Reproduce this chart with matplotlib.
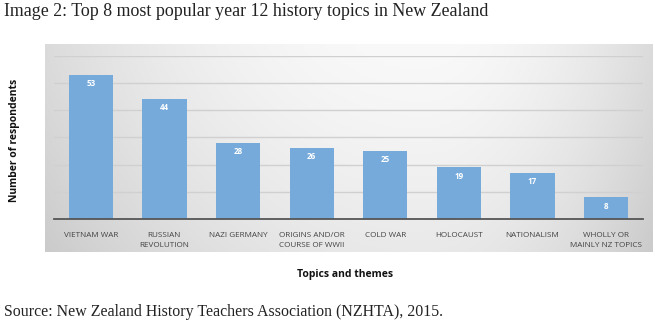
import numpy as np
import matplotlib
matplotlib.use("Agg")
import matplotlib.pyplot as plt

categories = ["VIETNAM WAR", "RUSSIAN\nREVOLUTION", "NAZI GERMANY", "ORIGINS AND/OR\nCOURSE OF WWII",
              "COLD WAR", "HOLOCAUST", "NATIONALISM", "WHOLLY OR\nMAINLY NZ TOPICS"]
values = [53, 44, 28, 26, 25, 19, 17, 8]
title = "Image 2: Top 8 most popular year 12 history topics in New Zealand"
source = "Source: New Zealand History Teachers Association (NZHTA), 2015."

W, H = 655, 332
fig = plt.figure(figsize=(W / 100, H / 100), dpi=100)
fig.patch.set_facecolor("white")

# background gradient panel
px0, px1, py0, py1 = 45, 653, 44, 252
bg = fig.add_axes([px0 / W, 1 - py1 / H, (px1 - px0) / W, (py1 - py0) / H])
nx, ny = 300, 100
xx = np.linspace(0, 1, nx)
yy = np.linspace(0, 1, ny)
X, Y = np.meshgrid(xx, yy)
cx = 0.62
dx = np.where(X < cx, (X - cx) / cx, (X - cx) / (1 - cx))
v = 249 - 30 * dx ** 2 - 16 * Y ** 1.3
v = np.clip(v, 190, 250) / 255.0
img = np.dstack([v, v, v])
bg.imshow(img, aspect="auto", extent=[0, 1, 1, 0], interpolation="bilinear")
bg.set_axis_off()

sans = ["Open Sans", "DejaVu Sans"]

ax = fig.add_axes([54 / W, 1 - 219.3 / H, (643 - 54) / W, (219.3 - 55.5) / H])
ax.patch.set_alpha(0)
x = np.arange(len(categories))
bars = ax.bar(x, values, width=0.6, color="#76aadb", zorder=3)
ax.set_xlim(-0.5, len(categories) - 0.5)
ax.set_ylim(0, 60)
ax.set_yticks(np.arange(10, 61, 10))
ax.yaxis.grid(True, color="#d0d0d0", linewidth=1.0, zorder=0)
ax.tick_params(axis="y", left=False, labelleft=False)
ax.tick_params(axis="x", bottom=False, pad=6)
ax.set_xticks(x)
ax.set_xticklabels(categories, fontsize=5.9, color="#444444", family=sans, linespacing=1.6, va="top")
for s in ["top", "right", "left"]:
    ax.spines[s].set_visible(False)
ax.spines["bottom"].set_color("#555555")
ax.spines["bottom"].set_linewidth(1.3)
ax.spines["bottom"].set_zorder(4)

for xi, val in zip(x, values):
    ax.text(xi, val - 1.5, str(val), ha="center", va="top", color="white",
            fontsize=5.8, fontweight="bold", family=sans, zorder=5)

fig.text(15 / W, 1 - 140 / H, "Number of respondents", rotation=90, ha="center", va="center",
         fontsize=7.5, fontweight="bold", family=sans, color="#111111")
fig.text(345 / W, 1 - 275 / H, "Topics and themes", ha="center", va="center",
         fontsize=7.5, fontweight="bold", family=sans, color="#111111")
fig.text(4 / W, 1 - 12 / H, title, ha="left", va="center",
         fontsize=12.9, family=["Liberation Serif", "DejaVu Serif"], color="#222222")
fig.text(4 / W, 1 - 312 / H, source, ha="left", va="center",
         fontsize=11.4, family=["Liberation Serif", "DejaVu Serif"], color="#222222")

fig.savefig("out.png", dpi=100, facecolor="white")
